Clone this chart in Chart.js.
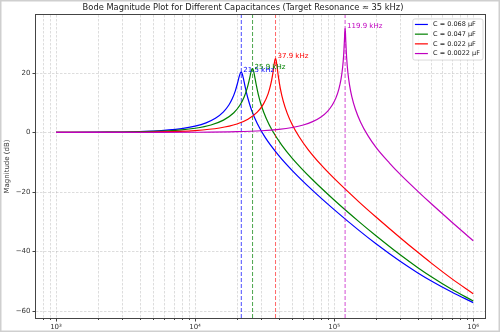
<!DOCTYPE html>
<html>
<head>
<meta charset="utf-8">
<script src="https://cdn.jsdelivr.net/npm/chart.js@4/dist/chart.umd.min.js"></script>
<style>
  html, body { margin: 0; padding: 0; background: #fff; }
</style>
</head>
<body>
<canvas id="bode" width="500" height="332"></canvas>
<script>
// capacitors in the tank and where each one resonates
const capLabels = ['C = 0.068 µF', 'C = 0.047 µF', 'C = 0.022 µF', 'C = 0.0022 µF'];
const resonanceHz = [21500, 25900, 37900, 119900];

// frequency sweep (Hz) and magnitude (dB), one pair per capacitor
const freq068 = [1000, 2000, 5000, 8000, 10000, 12000, 14000, 16000, 17500, 18500, 19500, 20200, 20800, 21200, 21500, 21800, 22300, 23000, 24000, 25500, 28000, 32000, 40000, 50000, 70000, 100000, 150000, 200000, 300000, 400000, 500000, 700000, 1000000];
const mag068 = [0.02, 0.08, 0.48, 1.29, 2.10, 3.22, 4.74, 6.90, 9.21, 11.29, 14.07, 16.58, 18.91, 20.07, 20.30, 19.83, 18.02, 15.01, 11.41, 7.48, 3.01, -1.75, -7.80, -12.82, -19.49, -25.96, -32.86, -37.45, -43.42, -47.23, -49.93, -53.65, -57.23];

const freq047 = [1000, 2000, 5000, 8000, 10000, 13000, 16000, 19000, 21000, 22500, 23700, 24500, 25200, 25600, 25900, 26300, 26800, 27500, 28500, 30000, 32500, 36000, 42000, 50000, 70000, 100000, 150000, 200000, 300000, 400000, 500000, 700000, 1000000];
const mag047 = [0.01, 0.05, 0.33, 0.87, 1.40, 2.51, 4.14, 6.63, 9.13, 11.83, 14.88, 17.57, 20.16, 21.22, 21.44, 20.77, 18.97, 16.14, 12.74, 8.98, 4.67, 0.54, -4.24, -8.69, -15.92, -22.71, -29.90, -34.75, -41.23, -45.47, -48.52, -52.73, -56.69];

const freq022 = [1000, 2000, 5000, 10000, 15000, 20000, 24000, 28000, 31000, 33500, 35000, 36200, 37000, 37500, 37900, 38300, 38900, 39800, 41000, 43000, 46000, 50000, 56000, 65000, 80000, 100000, 150000, 200000, 300000, 400000, 500000, 700000, 1000000];
const mag022 = [0.01, 0.02, 0.15, 0.63, 1.48, 2.83, 4.44, 6.82, 9.52, 12.98, 16.12, 19.72, 22.75, 24.39, 24.86, 24.22, 22.01, 18.49, 14.84, 10.62, 6.41, 2.58, -1.47, -5.76, -10.76, -15.47, -23.25, -28.44, -35.49, -40.32, -43.95, -49.16, -54.23];

const freq0022 = [1000, 5000, 10000, 20000, 30000, 40000, 50000, 60000, 70000, 80000, 90000, 97000, 103000, 108000, 112000, 115000, 117000, 118500, 119400, 119900, 120400, 121300, 123000, 125500, 129000, 134000, 142000, 155000, 175000, 200000, 250000, 300000, 400000, 500000, 700000, 1000000];
const mag0022 = [0.00, 0.02, 0.06, 0.25, 0.56, 1.02, 1.66, 2.50, 3.62, 5.11, 7.19, 9.22, 11.62, 14.46, 17.82, 21.74, 25.87, 30.71, 34.14, 34.96, 34.07, 30.57, 25.12, 20.23, 15.99, 12.05, 7.89, 3.46, -1.07, -5.02, -10.30, -14.20, -19.80, -24.00, -30.10, -36.40];

// axis ticks
const xMajorTicks = [1e3, 1e4, 1e5, 1e6];
const xMinorTicks = [800, 900,
  2e3, 3e3, 4e3, 5e3, 6e3, 7e3, 8e3, 9e3,
  2e4, 3e4, 4e4, 5e4, 6e4, 7e4, 8e4, 9e4,
  2e5, 3e5, 4e5, 5e5, 6e5, 7e5, 8e5, 9e5];
const yTicks = [-60, -40, -20, 0, 20];
const xRange = [718, 1236000];
const yRange = [-62.4, 39.5];

const freqs = [freq068, freq047, freq022, freq0022];
const mags = [mag068, mag047, mag022, mag0022];

const lineColors = ['#0000ff', '#008000', '#ff0000', '#bf00bf'];
const vlineColors = ['rgba(0,0,255,0.7)', 'rgba(0,128,0,0.7)', 'rgba(255,0,0,0.6)', 'rgba(191,0,191,0.7)'];
const FONT = 'DejaVu Sans';
const sup = { 3: '³', 4: '⁴', 5: '⁵', 6: '⁶' };

Chart.defaults.font.family = FONT;

const datasets = [];
capLabels.forEach((label, i) => {
  datasets.push({
    label,
    data: freqs[i].map((f, k) => ({ x: f, y: mags[i][k] })),
    borderColor: lineColors[i],
    borderWidth: 1.2,
    pointRadius: 0,
    cubicInterpolationMode: 'monotone',
    fill: false,
    order: 8 - 2 * i
  });
  // dashed marker at the resonance frequency
  datasets.push({
    label: label + ' f0',
    data: [{ x: resonanceHz[i], y: yRange[0] }, { x: resonanceHz[i], y: yRange[1] }],
    borderColor: vlineColors[i],
    borderWidth: 1,
    borderDash: [4, 2],
    pointRadius: 0,
    fill: false,
    order: 7 - 2 * i
  });
});

function seg(ctx, x1, y1, x2, y2) {
  ctx.moveTo(x1, y1);
  ctx.lineTo(x2, y2);
}

const decor = {
  id: 'decor',
  beforeDatasetsDraw(chart) {
    const { ctx, chartArea: a, scales: { x, y } } = chart;
    ctx.save();
    ctx.strokeStyle = 'rgba(176,176,176,0.55)';
    ctx.lineWidth = 0.8;
    ctx.setLineDash([2.5, 1.5]);
    ctx.beginPath();
    xMajorTicks.concat(xMinorTicks).forEach(v => {
      const px = Math.round(x.getPixelForValue(v)) + 0.5;
      seg(ctx, px, a.top, px, a.bottom);
    });
    yTicks.forEach(v => {
      const py = Math.round(y.getPixelForValue(v)) + 0.5;
      seg(ctx, a.left, py, a.right, py);
    });
    ctx.stroke();
    ctx.restore();
  },
  afterDatasetsDraw(chart) {
    const { ctx, scales: { x, y } } = chart;
    ctx.save();
    ctx.font = '7px "' + FONT + '"';
    ctx.textAlign = 'left';
    ctx.textBaseline = 'alphabetic';
    resonanceHz.forEach((f0, i) => {
      const peak = Math.max(...mags[i]);
      ctx.fillStyle = lineColors[i];
      ctx.fillText((f0 / 1000).toFixed(1) + ' kHz', x.getPixelForValue(f0) + 2, y.getPixelForValue(peak));
    });
    ctx.restore();
  },
  afterDraw(chart) {
    const { ctx, chartArea: a, scales: { x, y }, width, height } = chart;
    const L = Math.round(a.left) - 0.5, R = Math.round(a.right) - 0.5;
    const T = Math.round(a.top) - 0.5, B = Math.round(a.bottom) + 0.5;
    ctx.save();
    ctx.strokeStyle = '#444';
    ctx.lineWidth = 1;
    ctx.strokeRect(L, T, R - L, B - T);

    // tick marks
    ctx.beginPath();
    xMajorTicks.forEach(v => {
      const px = Math.round(x.getPixelForValue(v)) + 0.5;
      seg(ctx, px, B, px, B + 3);
    });
    xMinorTicks.forEach(v => {
      const px = Math.round(x.getPixelForValue(v)) + 0.5;
      seg(ctx, px, B, px, B + 1.5);
    });
    yTicks.forEach(v => {
      const py = Math.round(y.getPixelForValue(v)) + 0.5;
      seg(ctx, L, py, L - 3, py);
    });
    ctx.stroke();

    // legend box, upper right inside the axes
    const fs = 6.5;
    ctx.font = fs + 'px "' + FONT + '"';
    const textW = Math.max(...capLabels.map(t => ctx.measureText(t).width));
    const pad = 0.4 * fs, handle = 2 * fs, gap = 0.8 * fs;
    const rowH = 9.7;
    const bw = pad + handle + gap + textW + pad;
    const bh = 12 + rowH * (capLabels.length - 1);
    const bx = a.right - 3.5 - bw, by = a.top + 3.5;
    ctx.beginPath();
    ctx.roundRect(bx + 0.5, by + 0.5, bw, bh, 2);
    ctx.fillStyle = 'rgba(255,255,255,0.8)';
    ctx.fill();
    ctx.strokeStyle = '#d0d0d0';
    ctx.lineWidth = 0.8;
    ctx.stroke();
    ctx.textAlign = 'left';
    ctx.textBaseline = 'middle';
    capLabels.forEach((t, i) => {
      const ry = by + 6 + i * rowH;
      ctx.strokeStyle = lineColors[i];
      ctx.lineWidth = 1.2;
      ctx.beginPath();
      seg(ctx, bx + pad, ry, bx + pad + handle, ry);
      ctx.stroke();
      ctx.fillStyle = '#222';
      ctx.fillText(t, bx + pad + handle + gap, ry);
    });

    // thin frame round the whole figure
    ctx.strokeStyle = '#cfcfcf';
    ctx.lineWidth = 1.5;
    ctx.strokeRect(0.75, 0.75, width - 1.5, height - 1.5);
    ctx.restore();
  }
};

new Chart(document.getElementById('bode'), {
  type: 'line',
  data: { datasets },
  options: {
    responsive: false,
    animation: false,
    layout: { padding: { left: 0, right: 14, top: 0, bottom: 0 } },
    plugins: {
      legend: { display: false },
      tooltip: { enabled: false },
      title: {
        display: true,
        text: 'Bode Magnitude Plot for Different Capacitances (Target Resonance ≈ 35 kHz)',
        color: '#222',
        font: { size: 8.3, weight: 'normal' },
        padding: { top: 2.5, bottom: 2.5 }
      }
    },
    scales: {
      x: {
        type: 'logarithmic',
        min: xRange[0],
        max: xRange[1],
        grid: { display: false, drawTicks: false },
        border: { display: false },
        afterBuildTicks: s => { s.ticks = xMajorTicks.map(v => ({ value: v })); },
        afterFit: s => { s.height = 14; },
        ticks: {
          autoSkip: false,
          maxRotation: 0,
          padding: 5,
          color: '#333',
          font: { size: 7 },
          callback: v => '10' + sup[Math.round(Math.log10(v))]
        }
      },
      y: {
        type: 'linear',
        min: yRange[0],
        max: yRange[1],
        grid: { display: false, drawTicks: false },
        border: { display: false },
        afterBuildTicks: s => { s.ticks = yTicks.map(v => ({ value: v })); },
        afterFit: s => { s.width = 36; },
        title: {
          display: true,
          text: 'Magnitude (dB)',
          color: '#333',
          font: { size: 7 },
          padding: { top: 3, bottom: 0 }
        },
        ticks: {
          padding: 5.5,
          color: '#333',
          font: { size: 7 },
          callback: v => (v < 0 ? '\u2212' + Math.abs(v) : String(v))
        }
      }
    }
  },
  plugins: [decor]
});
</script>
</body>
</html>
